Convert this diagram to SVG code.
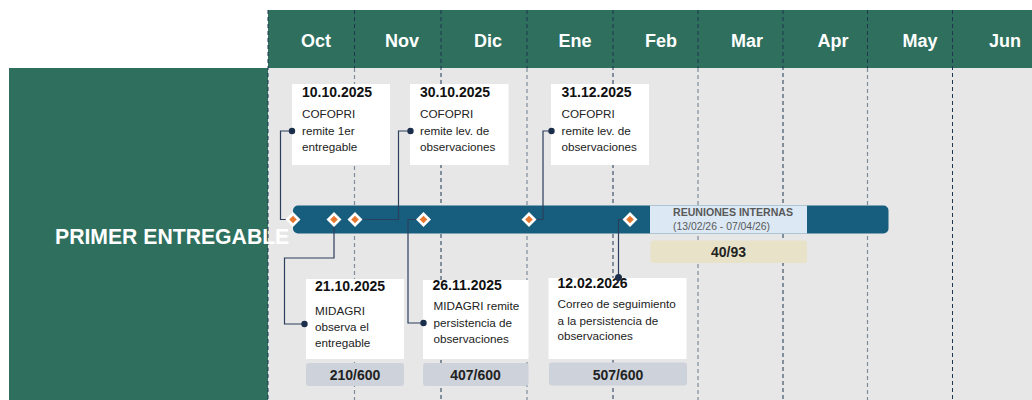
<svg xmlns="http://www.w3.org/2000/svg" width="1032" height="400" viewBox="0 0 1032 400">
<style>
.month{font-family:"Liberation Sans",Arial,sans-serif;font-weight:bold;font-size:18px;fill:#fff;text-anchor:middle}
.date{font-family:"Liberation Sans",Arial,sans-serif;font-weight:bold;font-size:14px;fill:#111}
.body{font-family:"Liberation Sans",Arial,sans-serif;font-size:11.7px;fill:#222}
.stat{font-family:"Liberation Sans",Arial,sans-serif;font-weight:bold;font-size:14px;fill:#222;text-anchor:middle}
.box{fill:#fff}
.statbox{fill:#CDD2DB}
.vdark{stroke:#1F3550;stroke-width:1;stroke-dasharray:4 3;fill:none}
.vgrey{stroke:#7F8C9C;stroke-width:1.2;stroke-dasharray:4 3;fill:none}
.conn{stroke:#2B3F5C;stroke-width:1.2;fill:none}
.dot{fill:#1B2E4B}
</style>
<defs>
<g id="ms">
<path d="M0,-7.5 L7.5,0 L0,7.5 L-7.5,0 Z" fill="#fff"/>
<path d="M0,-3.8 L3.8,0 L0,3.8 L-3.8,0 Z" fill="#E8782F"/>
</g>
</defs>
<g id="background">
<rect x="268" y="10" width="764" height="58.5" fill="#2E6F5E"/>
<rect x="9" y="68" width="259" height="332" fill="#2E6F5E"/>
<rect x="268" y="68" width="764" height="332" fill="#E7E7E7"/>
</g>
<g id="gridlines">
<line class="vdark" x1="268" y1="10" x2="268" y2="400"/>
<line class="vdark" x1="354.5" y1="10" x2="354.5" y2="68"/>
<line class="vgrey" x1="354.5" y1="68" x2="354.5" y2="400"/>
<line class="vdark" x1="441" y1="10" x2="441" y2="400"/>
<line class="vdark" x1="527" y1="10" x2="527" y2="68"/>
<line class="vgrey" x1="527" y1="68" x2="527" y2="400"/>
<line class="vdark" x1="613" y1="10" x2="613" y2="400"/>
<line class="vdark" x1="698" y1="10" x2="698" y2="68"/>
<line class="vgrey" x1="698" y1="68" x2="698" y2="400"/>
<line class="vdark" x1="783" y1="10" x2="783" y2="400"/>
<line class="vdark" x1="867.5" y1="10" x2="867.5" y2="68"/>
<line class="vgrey" x1="867.5" y1="68" x2="867.5" y2="400"/>
<line class="vdark" x1="952.5" y1="10" x2="952.5" y2="400"/>
</g>
<g id="months">
<text class="month" x="316" y="47">Oct</text>
<text class="month" x="402" y="47">Nov</text>
<text class="month" x="488" y="47">Dic</text>
<text class="month" x="575" y="47">Ene</text>
<text class="month" x="661" y="47">Feb</text>
<text class="month" x="747" y="47">Mar</text>
<text class="month" x="833" y="47">Apr</text>
<text class="month" x="920" y="47">May</text>
<text class="month" x="1005" y="47">Jun</text>
</g>
<g id="bar">
<rect x="293" y="205.5" width="595.5" height="28" rx="5" fill="#175E7E"/>
</g>
<g id="reuniones">
<rect x="650" y="205.5" width="157" height="28" fill="#DCE9F5"/>
<text x="673" y="216" font-family="'Liberation Sans',Arial,sans-serif" font-weight="bold" font-size="10.6" fill="#595959">REUNIONES INTERNAS</text>
<text x="673" y="230" font-family="'Liberation Sans',Arial,sans-serif" font-size="10.4" fill="#595959">(13/02/26 - 07/04/26)</text>
<rect x="650.5" y="240.5" width="156.5" height="22.5" rx="3" fill="#E8E2C8"/>
<text class="stat" x="728.5" y="256.5">40/93</text>
</g>
<g id="label-primer">
<text x="55" y="243.5" font-family="'Liberation Sans',Arial,sans-serif" font-weight="bold" font-size="21.2" fill="#fff">PRIMER ENTREGABLE</text>
</g>
<g id="connectors">
<polyline class="conn" points="292,131 280.5,131 280.5,219.5 293,219.5"/>
<polyline class="conn" points="410.5,131 398.5,131 398.5,219.5 355,219.5"/>
<polyline class="conn" points="551.5,131 543,131 543,219.5 529,219.5"/>
<polyline class="conn" points="334,219.5 334,258 284.5,258 284.5,324 304,324"/>
<polyline class="conn" points="423,219.5 408,219.5 408,323 423,323"/>
<polyline class="conn" points="630,219.5 618.5,219.5 618.5,277"/>
</g>
<g id="milestones">
<use href="#ms" x="293" y="219.5"/>
<use href="#ms" x="334" y="219.5"/>
<use href="#ms" x="355" y="219.5"/>
<use href="#ms" x="423.5" y="219.5"/>
<use href="#ms" x="529" y="219.5"/>
<use href="#ms" x="630" y="219.5"/>
</g>
<g id="node-10-10-2025">
<rect class="box" x="292" y="84" width="98" height="81"/>
<text class="date" x="302" y="97">10.10.2025</text>
<text class="body" x="302" y="118">COFOPRI</text>
<text class="body" x="302" y="135">remite 1er</text>
<text class="body" x="302" y="151">entregable</text>
<circle class="dot" cx="292" cy="131" r="3.2"/>
</g>
<g id="node-30-10-2025">
<rect class="box" x="410" y="84" width="98.5" height="81"/>
<text class="date" x="420" y="97">30.10.2025</text>
<text class="body" x="420" y="118">COFOPRI</text>
<text class="body" x="420" y="135">remite lev. de</text>
<text class="body" x="420" y="151">observaciones</text>
<circle class="dot" cx="410.5" cy="131" r="3.2"/>
</g>
<g id="node-31-12-2025">
<rect class="box" x="551" y="84" width="98" height="81"/>
<text class="date" x="561.5" y="97">31.12.2025</text>
<text class="body" x="561.5" y="118">COFOPRI</text>
<text class="body" x="561.5" y="135">remite lev. de</text>
<text class="body" x="561.5" y="151">observaciones</text>
<circle class="dot" cx="551.5" cy="131" r="3.2"/>
</g>
<g id="node-21-10-2025">
<rect class="box" x="306" y="279" width="98" height="80"/>
<text class="date" x="315" y="291">21.10.2025</text>
<text class="body" x="315" y="315">MIDAGRI</text>
<text class="body" x="315" y="331">observa el</text>
<text class="body" x="315" y="347">entregable</text>
<circle class="dot" cx="304.5" cy="324" r="3.2"/>
<rect class="statbox" x="306" y="363" width="98" height="23" rx="3"/>
<text class="stat" x="355" y="380">210/600</text>
</g>
<g id="node-26-11-2025">
<rect class="box" x="423" y="280" width="105.5" height="79"/>
<text class="date" x="432.5" y="289.5">26.11.2025</text>
<text class="body" x="433.5" y="310">MIDAGRI remite</text>
<text class="body" x="433.5" y="326.5">persistencia de</text>
<text class="body" x="433.5" y="342.5">observaciones</text>
<circle class="dot" cx="423.5" cy="323" r="3.2"/>
<rect class="statbox" x="423" y="363" width="105.5" height="23" rx="3"/>
<text class="stat" x="475.5" y="380">407/600</text>
</g>
<g id="node-12-02-2026">
<rect class="box" x="548.5" y="278" width="138" height="81"/>
<text class="date" x="557.5" y="287.5">12.02.2026</text>
<text class="body" x="557.5" y="307.5">Correo de seguimiento</text>
<text class="body" x="557.5" y="324.5">a la persistencia de</text>
<text class="body" x="557.5" y="340">observaciones</text>
<circle class="dot" cx="618.5" cy="277.5" r="3.5"/>
<rect class="statbox" x="549" y="362.5" width="138" height="23" rx="3"/>
<text class="stat" x="618" y="379.5">507/600</text>
</g>
</svg>
